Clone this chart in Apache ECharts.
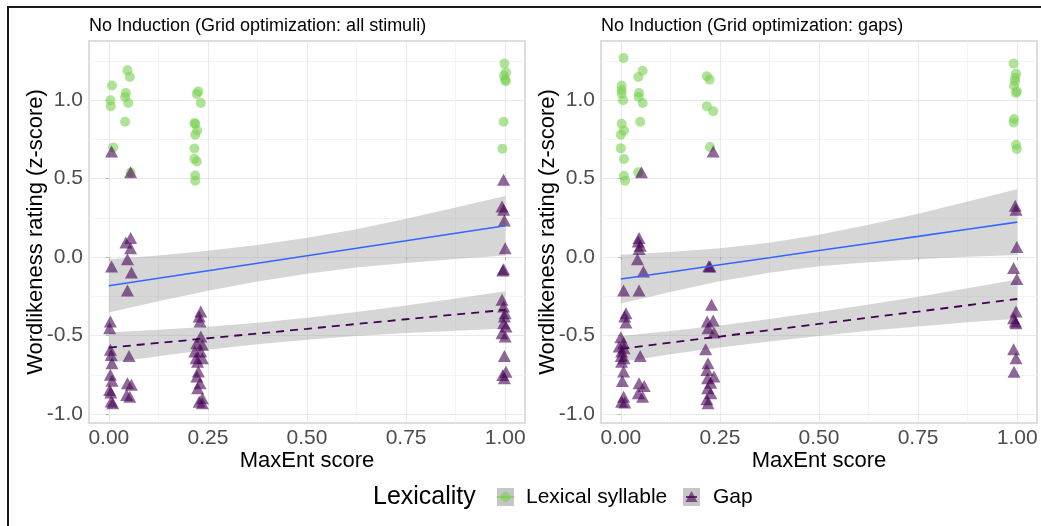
<!DOCTYPE html>
<html>
<head>
<meta charset="utf-8">
<title>Wordlikeness by MaxEnt score</title>
<script src="https://cdn.jsdelivr.net/npm/echarts@6/dist/echarts.min.js"></script>
<style>
  html, body { margin: 0; padding: 0; background: #fff; }
  #wordlike { width: 1041px; height: 526px; }
</style>
</head>
<body>
<div id="wordlike"></div>
<script>
// panel A = grid optimization: all stimuli, panel B = grid optimization: gaps
let lexAllX = [0.008, 0.004, 0.005, 0.011,
  0.047, 0.053, 0.043, 0.041, 0.049, 0.041, 0.055,
  0.226, 0.222, 0.232, 0.216, 0.218, 0.223, 0.218, 0.216, 0.216, 0.222, 0.218, 0.218,
  0.998, 1.002, 0.997, 1.0, 1.002, 0.996, 0.993];
let lexAllY = [1.093, 0.999, 0.961, 0.699,
  1.19, 1.148, 1.046, 1.02, 0.982, 0.863, 0.539,
  1.056, 1.04, 0.982, 0.854, 0.848, 0.807, 0.78, 0.692, 0.626, 0.609, 0.52, 0.486,
  1.233, 1.177, 1.156, 1.131, 1.12, 0.863, 0.691];

let gapAllX = [0.007, 0.007, 0.004, 0.002, 0.004, 0.006, 0.008, 0.004, 0.008, 0.002, 0.005, 0.006, 0.01,
  0.055, 0.055, 0.043, 0.055, 0.047, 0.057, 0.047, 0.051, 0.047, 0.057, 0.045, 0.053,
  0.232, 0.228, 0.23, 0.232, 0.222, 0.236, 0.217, 0.232, 0.22, 0.236, 0.224, 0.226, 0.222, 0.23, 0.224, 0.236, 0.228, 0.236,
  0.996, 0.992, 0.996, 0.998, 1.0, 0.996, 0.994, 0.992, 0.996, 1.0, 0.998, 0.996, 1.002, 0.992, 1.0, 0.998, 1.002, 0.994, 0.998];
let gapAllY = [0.673, -0.06, -0.41, -0.453, -0.591, -0.623, -0.676, -0.75, -0.787, -0.846, -0.863, -0.92, -0.931,
  0.54, 0.121, 0.093, 0.057, -0.013, -0.098, -0.213, -0.63, -0.804, -0.814, -0.878, -0.889,
  -0.347, -0.379, -0.41, -0.506, -0.549, -0.559, -0.602, -0.602, -0.644, -0.644, -0.666, -0.729, -0.761, -0.804, -0.836, -0.899, -0.921, -0.931,
  0.493, 0.323, 0.302, 0.233, 0.057, -0.077, -0.085, -0.272, -0.315, -0.357, -0.379, -0.421, -0.442, -0.485, -0.506, -0.63, -0.73, -0.751, -0.772];

let lexGapsX = [0.007, 0.002, 0.002, 0.002, 0.006, 0.002, 0.008, 0.0, 0.0, 0.008, 0.008, 0.011,
  0.055, 0.044, 0.046, 0.045, 0.055, 0.049, 0.044,
  0.217, 0.224, 0.217, 0.233, 0.225,
  0.991, 0.997, 0.995, 0.995, 0.992, 0.999, 0.997, 0.992, 0.991, 0.997, 0.999];
let lexGapsY = [1.269, 1.092, 1.063, 1.041, 0.999, 0.85, 0.807, 0.78, 0.693, 0.625, 0.518, 0.487,
  1.188, 1.148, 1.046, 1.02, 0.982, 0.863, 0.54,
  1.152, 1.131, 0.961, 0.929, 0.702,
  1.233, 1.169, 1.142, 1.12, 1.092, 1.056, 1.046, 0.88, 0.858, 0.716, 0.689];

let gapGapsX = [0.007, 0.013, 0.01, 0.013, 0.0, 0.007, -0.004, 0.008, 0.002, 0.001, 0.008, 0.002, 0.007, 0.004, 0.007, 0.002, 0.01,
  0.052, 0.046, 0.044, 0.049, 0.046, 0.042, 0.057, 0.046, 0.049, 0.046, 0.059, 0.044, 0.055,
  0.233, 0.225, 0.222, 0.229, 0.218, 0.233, 0.22, 0.235, 0.214, 0.22, 0.217, 0.235, 0.219, 0.227, 0.219, 0.227, 0.217, 0.22,
  0.995, 0.997, 0.999, 0.991, 0.999, 0.997, 0.991, 0.995, 0.997, 0.991, 0.997, 0.992];
let gapGapsY = [-0.213, -0.357, -0.379, -0.417, -0.51, -0.549, -0.57, -0.58, -0.602, -0.63, -0.644, -0.666, -0.729, -0.789, -0.889, -0.921, -0.927,
  0.54, 0.121, 0.1, 0.072, 0.051, -0.013, -0.092, -0.213, -0.63, -0.804, -0.821, -0.867, -0.889,
  0.673, -0.06, -0.058, -0.304, -0.41, -0.404, -0.453, -0.481, -0.587, -0.676, -0.719, -0.761, -0.772, -0.8, -0.836, -0.867, -0.906, -0.931,
  0.327, 0.302, 0.064, -0.07, -0.14, -0.347, -0.389, -0.41, -0.421, -0.587, -0.644, -0.73];

// fitted lines and their confidence bands, read at these x positions
let fitX = [0, 0.125, 0.25, 0.375, 0.5, 0.625, 0.75, 0.875, 1];
let lexAllFit = [-0.183, -0.135, -0.087, -0.039, 0.009, 0.056, 0.104, 0.152, 0.2];
let lexAllHi = [-0.013, 0.011, 0.04, 0.077, 0.124, 0.178, 0.245, 0.316, 0.39];
let lexAllLo = [-0.353, -0.281, -0.214, -0.155, -0.106, -0.066, -0.037, -0.012, 0.01];
let gapAllFit = [-0.577, -0.547, -0.517, -0.487, -0.457, -0.426, -0.396, -0.366, -0.336];
let gapAllHi = [-0.48, -0.463, -0.443, -0.418, -0.387, -0.349, -0.308, -0.263, -0.217];
let gapAllLo = [-0.674, -0.631, -0.591, -0.556, -0.527, -0.503, -0.484, -0.469, -0.455];
let lexGapsFit = [-0.14, -0.095, -0.049, -0.004, 0.042, 0.087, 0.132, 0.178, 0.223];
let lexGapsHi = [0.015, 0.032, 0.056, 0.091, 0.142, 0.206, 0.277, 0.354, 0.433];
let lexGapsLo = [-0.295, -0.222, -0.154, -0.099, -0.058, -0.032, -0.013, 0.002, 0.013];
let gapGapsFit = [-0.585, -0.545, -0.506, -0.466, -0.426, -0.386, -0.347, -0.307, -0.267];
let gapGapsHi = [-0.502, -0.471, -0.436, -0.395, -0.35, -0.302, -0.252, -0.199, -0.142];
let gapGapsLo = [-0.668, -0.619, -0.576, -0.537, -0.502, -0.47, -0.442, -0.415, -0.392];

let xTicks = [0, 0.25, 0.5, 0.75, 1];
let xMinor = [0.125, 0.375, 0.625, 0.875];
let yTicks = [-1, -0.5, 0, 0.5, 1];
let yMinor = [-0.75, -0.25, 0.25, 0.75, 1.25];
let panelTitles = ["No Induction (Grid optimization: all stimuli)", "No Induction (Grid optimization: gaps)"];

const FONT = "Liberation Sans, Arial, sans-serif";
const GREEN = "#7AD151";
const PURPLE = "#440154";

function zip(xs, ys) {
  return xs.map((x, i) => [x, ys[i]]);
}

function mainX(g) {
  return {
    type: "value", gridIndex: g, min: -0.05, max: 1.05,
    name: "MaxEnt score", nameLocation: "middle", nameGap: 27, nameMoveOverlap: false,
    nameTextStyle: { fontFamily: FONT, fontSize: 22, color: "#000" },
    axisLine: { show: false },
    axisTick: { show: true, length: 3, customValues: xTicks, lineStyle: { color: "#b3b3b3" } },
    axisLabel: { customValues: xTicks, margin: 5, fontFamily: FONT, fontSize: 21, color: "#4d4d4d",
      formatter: v => v.toFixed(2) },
    splitLine: { show: true, lineStyle: { color: "#e9e9e9", width: 1 } }
  };
}

function mainY(g) {
  return {
    type: "value", gridIndex: g, min: -1.057, max: 1.377,
    name: "Wordlikeness rating (z-score)", nameLocation: "middle", nameGap: 42, nameMoveOverlap: false,
    nameTextStyle: { fontFamily: FONT, fontSize: 22, color: "#000" },
    axisLine: { show: false },
    axisTick: { show: true, length: 3, customValues: yTicks, lineStyle: { color: "#b3b3b3" } },
    axisLabel: { customValues: yTicks, margin: 6, fontFamily: FONT, fontSize: 21, color: "#4d4d4d",
      formatter: v => v.toFixed(1) },
    splitLine: { show: true, lineStyle: { color: "#e9e9e9", width: 1 } }
  };
}

// extra hidden axes, only for the minor grid lines
function minorAxis(g, lo, hi, vals) {
  return {
    type: "value", gridIndex: g, min: lo, max: hi,
    axisLine: { show: false },
    axisTick: { show: false, customValues: vals },
    axisLabel: { show: false },
    splitLine: { show: true, lineStyle: { color: "#f3f3f3", width: 1 } }
  };
}

function pointSeries(xs, ys, idx, lexical) {
  return {
    type: "scatter", xAxisIndex: idx, yAxisIndex: idx,
    data: zip(xs, ys),
    symbol: lexical ? "circle" : "triangle",
    symbolSize: lexical ? 10 : [13, 12],
    itemStyle: { color: lexical ? GREEN : PURPLE, opacity: 0.6 },
    silent: true
  };
}

function bandSeries(lo, hi, idx) {
  return {
    type: "custom", xAxisIndex: idx, yAxisIndex: idx,
    data: fitX.map((x, i) => [x, lo[i], hi[i]]),
    encode: { x: 0, y: [1, 2] },
    silent: true,
    renderItem: function (params, api) {
      if (params.dataIndex !== 0) return null;
      let top = fitX.map((x, i) => api.coord([x, hi[i]]));
      let bottom = fitX.map((x, i) => api.coord([x, lo[i]])).reverse();
      return {
        type: "polygon",
        shape: { points: top.concat(bottom) },
        style: { fill: "rgba(153,153,153,0.4)" }
      };
    }
  };
}

function fitSeries(ys, idx, lexical) {
  return {
    type: "line", xAxisIndex: idx, yAxisIndex: idx,
    data: zip(fitX, ys),
    showSymbol: false, silent: true,
    lineStyle: lexical
      ? { color: "#3366FF", width: 1.6 }
      : { color: PURPLE, width: 1.8, type: [8, 6] }
  };
}

let legendY = 497;
let legendGraphics = [
  { type: "rect", shape: { x: 8, y: 7, width: 1200, height: 700 },
    style: { fill: "none", stroke: "#1a1a1a", lineWidth: 2 } },
  { type: "text", x: 373, y: legendY,
    style: { text: "Lexicality", font: "25px " + FONT, fill: "#000", verticalAlign: "middle" } },
  { type: "rect", shape: { x: 497, y: legendY - 9, width: 17, height: 18 }, style: { fill: "#c6c6c6" } },
  { type: "line", shape: { x1: 497, y1: legendY, x2: 514, y2: legendY }, style: { stroke: GREEN, lineWidth: 1.5 } },
  { type: "circle", shape: { cx: 505.5, cy: legendY, r: 5 }, style: { fill: GREEN, opacity: 0.6 } },
  { type: "text", x: 526, y: legendY,
    style: { text: "Lexical syllable", font: "21px " + FONT, fill: "#000", verticalAlign: "middle" } },
  { type: "rect", shape: { x: 683, y: legendY - 9, width: 17, height: 18 }, style: { fill: "#c6c6c6" } },
  { type: "polygon", shape: { points: [[691.5, legendY - 6], [685.5, legendY + 5], [697.5, legendY + 5]] },
    style: { fill: PURPLE, opacity: 0.6 } },
  { type: "line", shape: { x1: 686, y1: legendY, x2: 697, y2: legendY }, style: { stroke: PURPLE, lineWidth: 1.5 } },
  { type: "text", x: 713, y: legendY,
    style: { text: "Gap", font: "21px " + FONT, fill: "#000", verticalAlign: "middle" } }
];

let option = {
  animation: false,
  backgroundColor: "#fff",
  title: [
    { text: panelTitles[0], left: 89, top: 17, padding: 0,
      textStyle: { fontFamily: FONT, fontSize: 18, fontWeight: "normal", color: "#000" } },
    { text: panelTitles[1], left: 601, top: 17, padding: 0,
      textStyle: { fontFamily: FONT, fontSize: 18, fontWeight: "normal", color: "#000" } }
  ],
  grid: [
    { left: 89, top: 41, width: 436, height: 382, show: true, borderColor: "#d2d2d2", borderWidth: 1.5,
      backgroundColor: "transparent", outerBoundsMode: "none" },
    { left: 601, top: 41, width: 436, height: 382, show: true, borderColor: "#d2d2d2", borderWidth: 1.5,
      backgroundColor: "transparent", outerBoundsMode: "none" }
  ],
  xAxis: [mainX(0), mainX(1), minorAxis(0, -0.05, 1.05, xMinor), minorAxis(1, -0.05, 1.05, xMinor)],
  yAxis: [mainY(0), mainY(1), minorAxis(0, -1.057, 1.377, yMinor), minorAxis(1, -1.057, 1.377, yMinor)],
  graphic: legendGraphics,
  series: [
    pointSeries(lexAllX, lexAllY, 0, true),
    pointSeries(gapAllX, gapAllY, 0, false),
    bandSeries(lexAllLo, lexAllHi, 0),
    bandSeries(gapAllLo, gapAllHi, 0),
    fitSeries(lexAllFit, 0, true),
    fitSeries(gapAllFit, 0, false),
    pointSeries(lexGapsX, lexGapsY, 1, true),
    pointSeries(gapGapsX, gapGapsY, 1, false),
    bandSeries(lexGapsLo, lexGapsHi, 1),
    bandSeries(gapGapsLo, gapGapsHi, 1),
    fitSeries(lexGapsFit, 1, true),
    fitSeries(gapGapsFit, 1, false)
  ]
};

let wordChart = echarts.init(document.getElementById("wordlike"));
wordChart.setOption(option);
</script>
</body>
</html>
